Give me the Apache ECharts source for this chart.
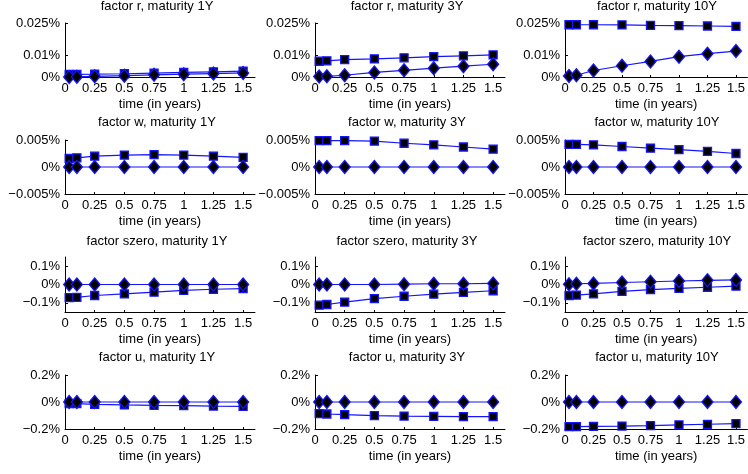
<!DOCTYPE html>
<html><head><meta charset="utf-8">
<script src="https://cdn.jsdelivr.net/npm/echarts@6/dist/echarts.min.js"></script>
<style>html,body{margin:0;padding:0;background:#fff}#c{width:748px;height:474px}</style>
</head><body><div id="c"></div>
<script>
// ---- data ----
const times = [0.035, 0.1, 0.25, 0.5, 0.75, 1, 1.25, 1.5];
const xTicks = [0, 0.25, 0.5, 0.75, 1, 1.25, 1.5];
const factors = ['r', 'w', 'szero', 'u'];
const maturities = ['1Y', '3Y', '10Y'];
const yTicksR = [0, 0.01, 0.025];
const yTicksW = [-0.005, 0, 0.005];
const yTicksS = [-0.1, 0, 0.1];
const yTicksU = [-0.2, 0, 0.2];
const yRangeR = [0, 0.025];
const yRangeW = [-0.005, 0.005];
const yRangeS = [-0.15, 0.15];
const yRangeU = [-0.2, 0.2];

// factor r (values in %)
const rSquares1Y = [0.0012, 0.0012, 0.0013, 0.0015, 0.0018, 0.0021, 0.0024, 0.0027];
const rDiamonds1Y = [0.0000, 0.0001, 0.0003, 0.0006, 0.0010, 0.0013, 0.0016, 0.0019];
const rSquares3Y = [0.0073, 0.0075, 0.0080, 0.0084, 0.0089, 0.0094, 0.0098, 0.0102];
const rDiamonds3Y = [0.0002, 0.0003, 0.0008, 0.0021, 0.0031, 0.0041, 0.0050, 0.0059];
const rSquares10Y = [0.0242, 0.0242, 0.0242, 0.0241, 0.0239, 0.0238, 0.0236, 0.0234];
const rDiamonds10Y = [0.0005, 0.0008, 0.0030, 0.0052, 0.0072, 0.0094, 0.0108, 0.0120];
// factor w
const wSquares1Y = [0.0016, 0.0017, 0.0020, 0.0022, 0.0023, 0.0022, 0.0020, 0.0018];
const wDiamonds1Y = [0, 0, 0, 0, 0, 0, 0, 0];
const wSquares3Y = [0.0049, 0.0049, 0.0049, 0.0048, 0.0044, 0.0041, 0.0037, 0.0033];
const wDiamonds3Y = [0, 0, 0, 0, 0, 0, 0, 0];
const wSquares10Y = [0.0042, 0.0042, 0.0041, 0.0038, 0.0035, 0.0032, 0.0029, 0.0025];
const wDiamonds10Y = [0, 0, 0, 0, 0, 0, 0, 0];
// factor szero
const sSquares1Y = [-0.072, -0.070, -0.060, -0.051, -0.042, -0.032, -0.026, -0.023];
const sDiamonds1Y = [0, 0, 0, 0, 0, 0, 0, 0];
const sSquares3Y = [-0.113, -0.109, -0.096, -0.077, -0.064, -0.053, -0.043, -0.034];
const sDiamonds3Y = [0, 0, 0, 0, 0.002, 0.004, 0.004, 0.006];
const sSquares10Y = [-0.060, -0.058, -0.051, -0.038, -0.028, -0.021, -0.015, -0.009];
const sDiamonds10Y = [0.002, 0.004, 0.006, 0.011, 0.015, 0.019, 0.023, 0.025];
// factor u
const uSquares1Y = [-0.012, -0.012, -0.017, -0.022, -0.025, -0.027, -0.030, -0.032];
const uDiamonds1Y = [0, 0, 0, 0, 0, 0, 0, 0];
const uSquares3Y = [-0.086, -0.089, -0.094, -0.101, -0.104, -0.106, -0.109, -0.109];
const uDiamonds3Y = [0, 0, 0, 0, 0, 0, 0, 0];
const uSquares10Y = [-0.183, -0.183, -0.180, -0.178, -0.175, -0.170, -0.165, -0.160];
const uDiamonds10Y = [0, 0, 0, 0, 0, 0, 0, 0];

const squares = [
  [rSquares1Y, rSquares3Y, rSquares10Y],
  [wSquares1Y, wSquares3Y, wSquares10Y],
  [sSquares1Y, sSquares3Y, sSquares10Y],
  [uSquares1Y, uSquares3Y, uSquares10Y]
];
const diamonds = [
  [rDiamonds1Y, rDiamonds3Y, rDiamonds10Y],
  [wDiamonds1Y, wDiamonds3Y, wDiamonds10Y],
  [sDiamonds1Y, sDiamonds3Y, sDiamonds10Y],
  [uDiamonds1Y, uDiamonds3Y, uDiamonds10Y]
];
const yTicks = [yTicksR, yTicksW, yTicksS, yTicksU];
const yRanges = [yRangeR, yRangeW, yRangeS, yRangeU];

// ---- layout ----
const colLeft = [65, 315, 565];
const plotW = 190;
const rowTop = [23, 140, 257, 375];
const rowH = [54, 54, 55, 54];
const titleTop = [0, 116, 235, 351];
const FONT = '"Liberation Sans", Arial, sans-serif';
const blue = '#1414ff';

function fmtPct(v) {
  const s = String(Math.abs(v));
  return (v < 0 ? '\u2212' : '') + s + '%';
}

const grid = [], xAxis = [], yAxis = [], series = [], title = [];
let idx = 0;
for (let r = 0; r < 4; r++) {
  for (let c = 0; c < 3; c++) {
    grid.push({left: colLeft[c], top: rowTop[r], width: plotW, height: rowH[r], containLabel: false});
    title.push({
      text: 'factor ' + factors[r] + ', maturity ' + maturities[c],
      left: colLeft[c] + plotW / 2 - 3, top: titleTop[r], textAlign: 'center', padding: 0,
      textStyle: {fontFamily: FONT, fontSize: 13, fontWeight: 'normal', color: '#000'}
    });
    xAxis.push({
      type: 'value', gridIndex: idx, min: 0, max: 1.6,
      name: 'time (in years)', nameLocation: 'middle', nameGap: 21,
      nameTextStyle: {fontFamily: FONT, fontSize: 13, color: '#000'},
      axisLine: {show: true, onZero: false, lineStyle: {color: '#000', width: 1}},
      axisTick: {show: true, inside: true, length: 2, customValues: xTicks, lineStyle: {color: '#000'}},
      axisLabel: {fontFamily: FONT, fontSize: 13, color: '#000', margin: 5, customValues: xTicks,
        formatter: v => String(v)},
      splitLine: {show: false}
    });
    yAxis.push({
      type: 'value', gridIndex: idx, min: yRanges[r][0], max: yRanges[r][1],
      axisLine: {show: true, onZero: false, lineStyle: {color: '#000', width: 1}},
      axisTick: {show: true, inside: true, length: 3, customValues: yTicks[r], lineStyle: {color: '#000'}},
      axisLabel: {fontFamily: FONT, fontSize: 13, color: '#000', margin: 5, customValues: yTicks[r],
        formatter: v => fmtPct(v)},
      splitLine: {show: false}
    });
    series.push({
      type: 'line', xAxisIndex: idx, yAxisIndex: idx,
      data: times.map((t, i) => [t, squares[r][c][i]]),
      symbol: 'rect', symbolSize: 8, showAllSymbol: true,
      lineStyle: {color: blue, width: 1.2},
      itemStyle: {color: '#000', borderColor: blue, borderWidth: 1.3},
      animation: false, z: 2
    });
    series.push({
      type: 'line', xAxisIndex: idx, yAxisIndex: idx,
      data: times.map((t, i) => [t, diamonds[r][c][i]]),
      symbol: 'diamond', symbolSize: [11, 13], showAllSymbol: true,
      lineStyle: {color: blue, width: 1.2},
      itemStyle: {color: '#000', borderColor: blue, borderWidth: 1.3},
      animation: false, z: 3
    });
    idx++;
  }
}

const chart = echarts.init(document.getElementById('c'), null, {renderer: 'canvas'});
chart.setOption({animation: false, backgroundColor: '#fff', title, grid, xAxis, yAxis, series});
</script>
</body></html>
